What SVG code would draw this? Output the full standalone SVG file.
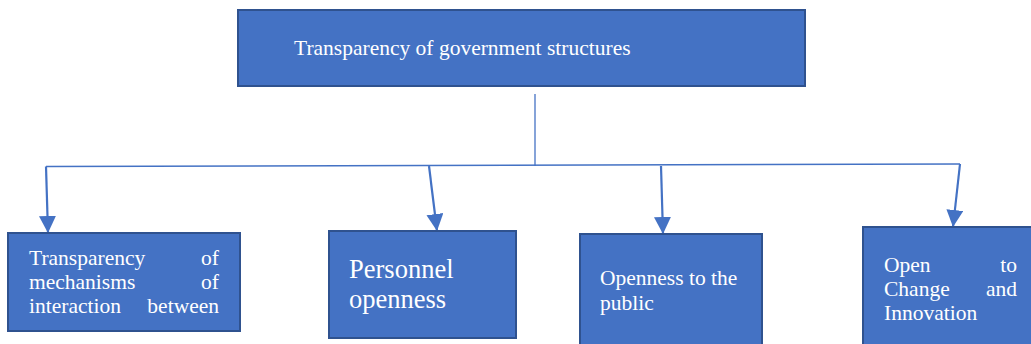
<svg xmlns="http://www.w3.org/2000/svg" width="1031" height="344" viewBox="0 0 1031 344">
<style>
.box{fill:#4472C4;stroke:#2F528F;stroke-width:2}
.t{font-family:"Liberation Serif","Times New Roman",serif;font-size:21.5px;fill:#ffffff}
.big{font-size:26.5px}
.ln{stroke:#4472C4;fill:none}
.arr{stroke:#4472C4;stroke-width:2.2;fill:none;marker-end:url(#ah)}
</style>
<defs>
<marker id="ah" markerUnits="userSpaceOnUse" markerWidth="17" markerHeight="18" refX="17" refY="8.5" orient="auto">
<path d="M0,0 L17,8.5 L0,17 Z" fill="#4472C4"/>
</marker>
</defs>
<g id="connectors">
<line class="ln" x1="535" y1="94" x2="535" y2="166" stroke-width="1.3"/>
<line class="ln" x1="46" y1="166.5" x2="960" y2="164" stroke-width="1.6"/>
<line class="arr" x1="46" y1="166.5" x2="48" y2="233"/>
<line class="arr" x1="429" y1="166" x2="437" y2="231"/>
<line class="arr" x1="661" y1="166" x2="663" y2="234"/>
<line class="arr" x1="960" y1="164" x2="953" y2="227"/>
</g>
<g id="root">
<rect class="box" x="238" y="10" width="567" height="76"/>
<text class="t" x="294" y="55">Transparency of government structures</text>
</g>
<g id="n1">
<rect class="box" x="8" y="233" width="232" height="98"/>
<text class="t" x="29" y="265">Transparency</text>
<text class="t" x="219" y="265" text-anchor="end">of</text>
<text class="t" x="29" y="289">mechanisms</text>
<text class="t" x="219" y="289" text-anchor="end">of</text>
<text class="t" x="29" y="313">interaction</text>
<text class="t" x="219" y="313" text-anchor="end">between</text>
</g>
<g id="n2">
<rect class="box" x="329" y="231" width="187" height="107"/>
<text class="t big" x="349" y="278">Personnel</text>
<text class="t big" x="349" y="308">openness</text>
</g>
<g id="n3">
<rect class="box" x="580" y="234" width="182" height="115"/>
<text class="t" x="600" y="285">Openness to the</text>
<text class="t" x="600" y="310">public</text>
</g>
<g id="n4">
<rect class="box" x="863" y="227" width="180" height="122"/>
<text class="t" x="884" y="272">Open</text>
<text class="t" x="1017" y="272" text-anchor="end">to</text>
<text class="t" x="884" y="296">Change</text>
<text class="t" x="1017" y="296" text-anchor="end">and</text>
<text class="t" x="884" y="320">Innovation</text>
</g>
</svg>
